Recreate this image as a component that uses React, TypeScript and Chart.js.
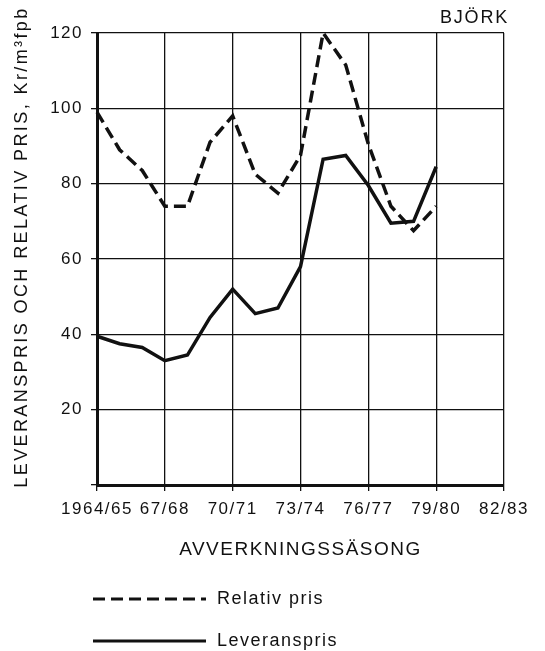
import React, { useEffect, useRef } from 'react';
import { Chart, registerables } from 'chart.js';

Chart.register(...registerables);

// ---- data ----
const seasons = [
  '1964/65', '65/66', '66/67', '67/68', '68/69', '69/70', '70/71', '71/72', '72/73',
  '73/74', '74/75', '75/76', '76/77', '77/78', '78/79', '79/80', '80/81', '81/82', '82/83',
];
const relativPris = [99, 89, 83.5, 74, 74, 91, 98, 82.5, 77.5, 87.5, 120, 111.5, 90.5, 74, 67.5, 74];
const leveranspris = [39.5, 37.5, 36.5, 33, 34.5, 44.5, 52, 45.5, 47, 58, 86.5, 87.5, 79.5, 69.5, 70, 84.5];
const seriesNames = ['Relativ pris', 'Leveranspris'];
const yTitle = 'LEVERANSPRIS OCH RELATIV PRIS, Kr/m³fpb';
const xTitle = 'AVVERKNINGSSÄSONG';
const cornerLabel = 'BJÖRK';
const labelEvery = 3;

const FONT = '"Liberation Sans", Arial, Helvetica, sans-serif';
const INK = '#111111';

const decor = {
  id: 'decor',
  beforeDraw(chart: any) {
    chart.ctx.letterSpacing = '1.5px';
  },
  afterDraw(chart: any) {
    const { ctx, chartArea: a } = chart;
    // y axis title
    ctx.save();
    ctx.fillStyle = INK;
    ctx.font = `18px ${FONT}`;
    ctx.letterSpacing = '2.4px';
    ctx.translate(a.left - 75, (a.top + a.bottom) / 2 - 12);
    ctx.rotate(-Math.PI / 2);
    ctx.textAlign = 'center';
    ctx.textBaseline = 'middle';
    ctx.fillText(yTitle, 0, 0);
    ctx.restore();

    // corner label
    ctx.save();
    ctx.fillStyle = INK;
    ctx.font = `18px ${FONT}`;
    ctx.letterSpacing = '1.8px';
    ctx.textAlign = 'right';
    ctx.textBaseline = 'middle';
    ctx.fillText(cornerLabel, a.right + 5, a.top - 15);
    ctx.restore();

    // legend
    chart.data.datasets.forEach((ds: any, i: number) => {
      const y = a.bottom + 114 + i * 42;
      ctx.save();
      ctx.strokeStyle = ds.borderColor;
      ctx.lineWidth = 3;
      ctx.setLineDash(ds.borderDash || []);
      ctx.beginPath();
      ctx.moveTo(a.left - 4, y);
      ctx.lineTo(a.left + 109, y);
      ctx.stroke();
      ctx.setLineDash([]);
      ctx.fillStyle = INK;
      ctx.font = `18px ${FONT}`;
      ctx.letterSpacing = '1.5px';
      ctx.textAlign = 'left';
      ctx.textBaseline = 'middle';
      ctx.fillText(ds.label, a.left + 120, y);
      ctx.restore();
    });
  },
};

export default function App() {
  const ref = useRef<HTMLCanvasElement>(null);

  useEffect(() => {
    document.body.style.margin = '0';
    const canvas = ref.current;
    if (!canvas) return;
    const gridColor = (c: any) => (c.index % labelEvery === 0 ? INK : 'rgba(0,0,0,0)');
    const chart = new Chart(canvas, {
      type: 'line',
      data: {
        labels: seasons,
        datasets: [
          {
            label: seriesNames[0],
            data: relativPris,
            borderColor: INK,
            borderWidth: 3.5,
            borderDash: [12, 6],
            pointRadius: 0,
            tension: 0,
            fill: false,
          },
          {
            label: seriesNames[1],
            data: leveranspris,
            borderColor: INK,
            borderWidth: 3.5,
            pointRadius: 0,
            tension: 0,
            fill: false,
          },
        ],
      },
      options: {
        responsive: false,
        animation: false,
        devicePixelRatio: 1,
        layout: { padding: { top: 33, right: 41, left: 0, bottom: 0 } },
        plugins: {
          legend: { display: false },
          tooltip: { enabled: false },
          title: { display: false },
        },
        scales: {
          x: {
            type: 'category',
            offset: false,
            afterFit: (s: any) => { s.height = 166; },
            grid: {
              color: gridColor,
              tickColor: gridColor,
              lineWidth: 1.3,
              tickLength: 6,
              drawTicks: true,
            },
            border: { display: true, color: INK, width: 3 },
            ticks: {
              autoSkip: false,
              maxRotation: 0,
              minRotation: 0,
              padding: 8,
              color: INK,
              font: { family: FONT, size: 17 },
              callback: (_v: any, i: number) => (i % labelEvery === 0 ? seasons[i] : ''),
            },
            title: {
              display: true,
              text: xTitle,
              color: INK,
              font: { family: FONT, size: 19 },
              padding: { top: 0, bottom: 90 },
            },
          },
          y: {
            min: 0,
            max: 120,
            afterFit: (s: any) => { s.width = 97; },
            grid: { color: INK, lineWidth: 1.3, tickLength: 6 },
            border: { display: true, color: INK, width: 3 },
            ticks: {
              stepSize: 20,
              padding: 8,
              color: INK,
              font: { family: FONT, size: 17 },
              callback: (v: any) => (v === 0 ? '' : String(v)),
            },
          },
        },
      },
      plugins: [decor],
    } as any);
    return () => chart.destroy();
  }, []);

  return (
    <div style={{ width: 545, height: 651, background: '#fff' }}>
      <canvas ref={ref} width={545} height={651} style={{ display: 'block' }} />
    </div>
  );
}
